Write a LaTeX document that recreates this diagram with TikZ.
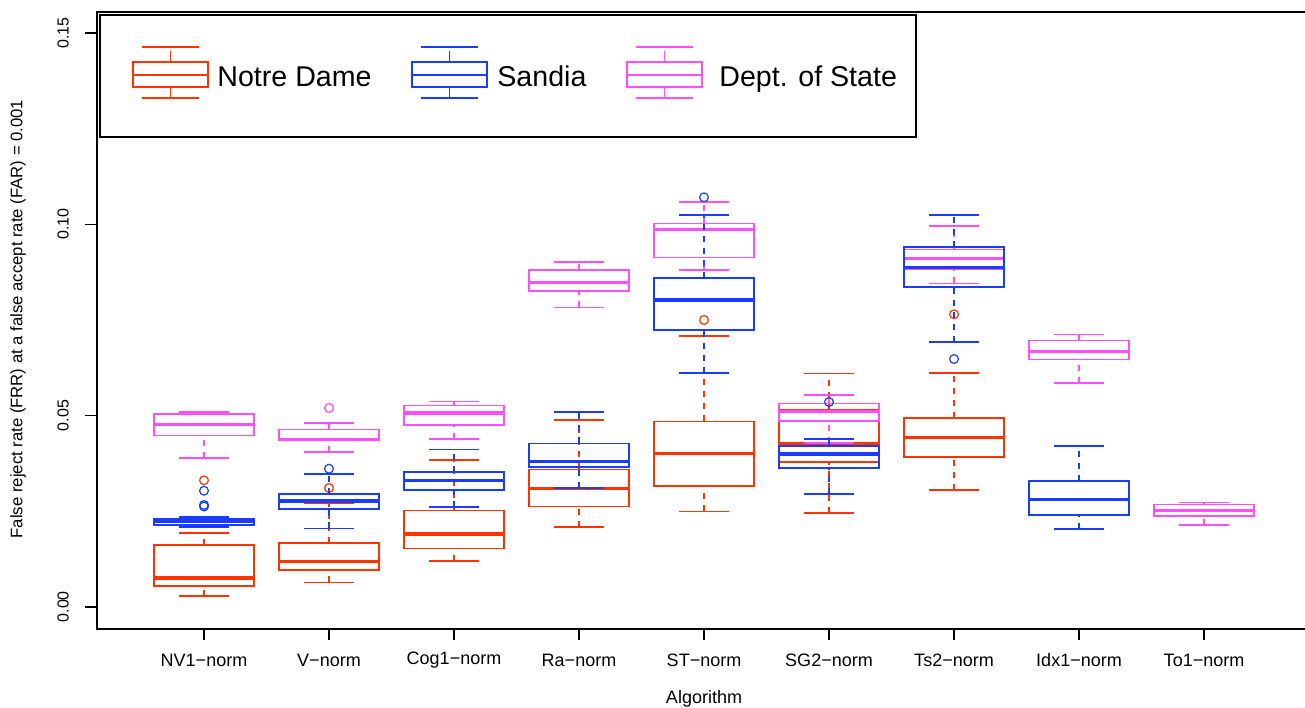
\documentclass[tikz,border=0pt]{standalone}
\usepackage{fontspec}
\setmainfont{Liberation Sans}
\usepackage{tikz}
\definecolor{ndred}{RGB}{255,51,0}
\definecolor{sdblue}{RGB}{25,60,255}
\definecolor{dsmag}{RGB}{255,77,255}
\tikzset{>=stealth,font=\footnotesize,
  nd/.style={draw=ndred},
  sd/.style={draw=sdblue},
  ds/.style={draw=dsmag},
  whisk/.style={dash pattern=on 3pt off 3pt},
  bx/.style={line width=0.8pt},
  med/.style={line width=1.6pt},
  outl/.style={line width=0.6pt}}

% x, colour, lower cap, box bottom, median, box top, upper cap
\newcommand{\bplot}[7]{%
  \draw[#2,bx,whisk] (#1,#3) -- (#1,#4);
  \draw[#2,bx,whisk] (#1,#6) -- (#1,#7);
  \draw[#2,bx] ({#1-25},#3) -- ({#1+25},#3);
  \draw[#2,bx] ({#1-25},#7) -- ({#1+25},#7);
  \draw[#2,bx] ({#1-50},#4) rectangle ({#1+50},#6);
  \draw[#2,med] ({#1-51},#5) -- ({#1+51},#5);
}
% legend symbol
\newcommand{\lgd}[2]{%
  \draw[#2,line width=1pt] ({#1-37.5},62) rectangle ({#1+37.5},87);
  \draw[#2,line width=1pt] ({#1-37.5},74.5) -- ({#1+37.5},74.5);
  \draw[#2,line width=0.5pt] (#1,51) -- (#1,62) (#1,87) -- (#1,98);
  \draw[#2,line width=1pt] ({#1-28.5},47) -- ({#1+28.5},47) ({#1-28.5},98) -- ({#1+28.5},98);
}

\begin{document}
\begin{tikzpicture}[x=0.5pt,y=-0.5pt]
\useasboundingbox (0,0) rectangle (1305,707);
% frame and axes
\draw[line width=1pt] (1305,12) -- (97,12) -- (97,629) -- (1305,629);
\foreach \v/\lab in {0/0.00,1/0.05,2/0.10,3/0.15} {
  \draw[line width=0.8pt] (85,{606.7-191.2*\v}) -- (97,{606.7-191.2*\v});
  \node[rotate=90] (yt\v) at (63,{606.7-191.2*\v}) {\lab};
}
\foreach \lab [count=\i] in {NV1−norm,V−norm,Cog1−norm,Ra−norm,ST−norm,SG2−norm,Ts2−norm,Idx1−norm,To1−norm} {
  \draw[line width=0.8pt] ({79+125*\i},629) -- ({79+125*\i},640);
  \node[font=\small] (alg\i) at ({79+125*\i},660) {\lab};
}
\node[rotate=90,font=\fontsize{8.35}{10}\selectfont] (ylab) at (18,319) {False reject rate (FRR) at a false accept rate (FAR) = 0.001};
\node[font=\small] (xlab) at (704,699) {Algorithm};

% Notre Dame
\bplot{204}{nd}{595.7}{586}{578}{544.7}{532.7}
\bplot{329}{nd}{582.3}{570}{561.3}{543}{503.3}
\bplot{454}{nd}{561}{548.3}{534}{510.3}{460}
\bplot{579}{nd}{526.7}{506.3}{488.7}{469.3}{419.7}
\bplot{704}{nd}{511.3}{486}{453.3}{421.3}{335.7}
\bplot{829}{nd}{512.7}{462}{443.3}{410}{373.3}
\bplot{954}{nd}{489.7}{456.7}{437.7}{418}{373}
\foreach \x/\y in {204/480.3,329/488,704/320,954/314.3}
  \draw[nd,outl] (\x,\y) circle[radius=2.2pt];

% Dept. of State
\bplot{204}{ds}{458}{435.3}{424.7}{413.7}{411.7}
\bplot{329}{ds}{452}{440.5}{439.7}{429.3}{422.7}
\bplot{454}{ds}{438.7}{425}{413}{405.3}{401.3}
\bplot{579}{ds}{307.3}{291}{282.7}{270}{262}
\bplot{704}{ds}{269.7}{257.3}{229.3}{223.3}{202}
\bplot{829}{ds}{443}{420.7}{411.7}{403.3}{395}
\bplot{954}{ds}{283.3}{269.3}{258.3}{249.3}{226}
\bplot{1079}{ds}{382.7}{359.3}{351.3}{340.3}{334.3}
\bplot{1204}{ds}{524.7}{516}{510.3}{504.3}{502.3}
\draw[ds,outl] (329,408) circle[radius=2.2pt];

% Sandia
\bplot{204}{sd}{527}{525}{521.3}{519}{516.7}
\bplot{329}{sd}{528.3}{509}{501}{493.7}{473.7}
\bplot{454}{sd}{506.7}{490}{480.7}{471.7}{449.3}
\bplot{579}{sd}{488}{467}{461.3}{443.3}{411.7}
\bplot{704}{sd}{372.7}{330}{300}{278}{215}
\bplot{829}{sd}{493.7}{467.7}{454}{446}{438.7}
\bplot{954}{sd}{342}{287}{267.7}{247}{214.7}
\bplot{1079}{sd}{529}{514.7}{499.3}{480.7}{445.7}
\foreach \x/\y in {204/490.7,204/505,204/506.5,329/468.7,704/197.3,829/402,954/359}
  \draw[sd,outl] (\x,\y) circle[radius=2.2pt];

% legend
\draw[line width=1pt,fill=white] (100,15) rectangle (916,137);
\lgd{170.5}{nd}
\lgd{449}{sd}
\lgd{664}{ds}
\node[anchor=base west,inner sep=0pt,font=\fontsize{14.3}{17}\selectfont] (lnd) at (217,86.5) {Notre Dame};
\node[anchor=base west,inner sep=0pt,font=\fontsize{14.3}{17}\selectfont] (lsd) at (497,86.5) {Sandia};
\node[anchor=base west,inner sep=0pt,font=\fontsize{14.3}{17}\selectfont] (lds) at (719,86.5) {Dept. of State};
\end{tikzpicture}
\end{document}
